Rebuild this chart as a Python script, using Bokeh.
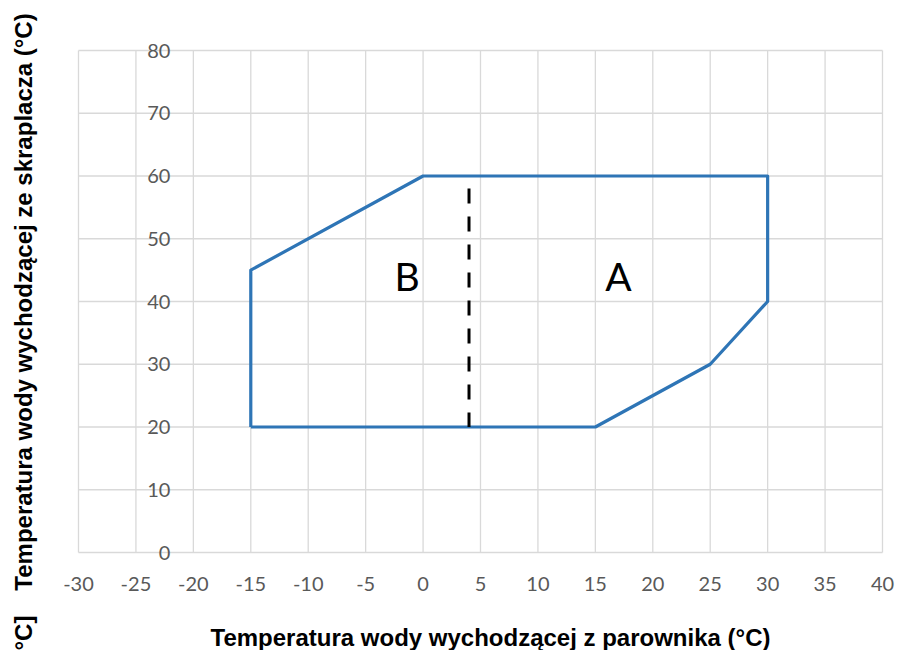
import math
from bokeh.plotting import figure
from bokeh.models import FixedTicker, Range1d, LinearAxis
from bokeh.core.properties import value
from bokeh.embed import file_html
from bokeh.resources import INLINE

# ---- data ----
x_ticks = [-30, -25, -20, -15, -10, -5, 0, 5, 10, 15, 20, 25, 30, 35, 40]
x_tick_labels = ["-30", "-25", "-20", "-15", "-10", "-5", "0", "5", "10",
                 "15", "20", "25", "30", "35", "40"]
y_ticks = [0, 10, 20, 30, 40, 50, 60, 70, 80]
y_tick_labels = ["0", "10", "20", "30", "40", "50", "60", "70", "80"]
y_axis_cross = -20

envelope_x = [-15, -15, 0, 30, 30, 25, 15, -15]
envelope_y = [20, 45, 60, 60, 40, 30, 20, 20]

divider_x = [4, 4]
divider_y = [58, 20]

zone_labels = ["B", "A"]
zone_x = [-1.4, 17.0]
zone_y = [44.0, 44.0]

x_title = "Temperatura wody wychodzącej z parownika (°C)"
y_title = "Temperatura wody wychodzącej ze skraplacza (°C)"
fragment = "°C]"

# ---- layout (canvas pixels) ----
W, H = 896, 650
PX_LEFT, PX_RIGHT = 78, 882     # where x = -30 and x = 40 fall
PY_BOTTOM, PY_TOP = 552, 50     # where y = 0 and y = 80 fall
XMIN, XMAX = x_ticks[0], x_ticks[-1]
YMIN, YMAX = y_ticks[0], y_ticks[-1]
kx = (PX_RIGHT - PX_LEFT) / (XMAX - XMIN)
ky = (PY_BOTTOM - PY_TOP) / (YMAX - YMIN)


def dx(px):
    return XMIN + (px - PX_LEFT) / kx


def dy(py):
    return YMIN + (PY_BOTTOM - py) / ky


GRID = "#d9d9d9"
TICK = "#595959"
BLUE = "#2e75b6"

p = figure(frame_width=W, frame_height=H,
           x_range=Range1d(dx(0), dx(W)), y_range=Range1d(dy(H), dy(0)),
           output_backend="svg", toolbar_location=None,
           x_axis_location=None, y_axis_location=None,
           min_border=0)
p.background_fill_color = "white"
p.border_fill_color = "white"
p.outline_line_color = None
p.grid.visible = False

# grid lines over the plot area only
p.segment(x0=x_ticks, y0=[YMIN] * len(x_ticks), x1=x_ticks, y1=[YMAX] * len(x_ticks),
          line_color=GRID, line_width=1.3)
p.segment(x0=[XMIN] * len(y_ticks), y0=y_ticks, x1=[XMAX] * len(y_ticks), y1=y_ticks,
          line_color=GRID, line_width=1.3)

# x axis at y = 0
xax = LinearAxis(ticker=FixedTicker(ticks=x_ticks), fixed_location=YMIN,
                 major_label_overrides=dict(zip(x_ticks, x_tick_labels)))
xax.axis_line_color = None
xax.major_tick_line_color = None
xax.minor_tick_line_color = None
xax.major_tick_out = 0
xax.major_tick_in = 0
xax.major_label_standoff = 24
xax.major_label_text_font = "Lato"
xax.major_label_text_font_size = "20px"
xax.major_label_text_color = TICK
p.add_layout(xax, "below")

# y axis crossing at x = -20
yax = LinearAxis(ticker=FixedTicker(ticks=y_ticks), fixed_location=y_axis_cross,
                 major_label_overrides=dict(zip(y_ticks, y_tick_labels)))
yax.axis_line_color = None
yax.major_tick_line_color = None
yax.minor_tick_line_color = None
yax.major_tick_out = 0
yax.major_tick_in = 0
yax.major_label_standoff = 23
yax.major_label_text_font = "Lato"
yax.major_label_text_font_size = "20px"
yax.major_label_text_color = TICK
p.add_layout(yax, "left")

# envelope
p.line(envelope_x, envelope_y, line_color=BLUE, line_width=3.2, line_join="round")
# divider
p.line(divider_x, divider_y, line_color="black", line_width=3, line_dash="15 13")

# zone labels
p.text(x=zone_x, y=zone_y, text=zone_labels, text_align="center",
       text_baseline="middle", text_font=value("Lato"),
       text_font_size="39px", text_color="black")

# axis titles
p.text(x=[dx(490)], y=[dy(636.5)], text=[x_title], text_align="center",
       text_baseline="middle", text_font=value("Liberation Sans"),
       text_font_style="bold", text_font_size="24px", text_color="black")
p.text(x=[dx(23)], y=[dy(301.5)], text=[y_title], angle=math.pi / 2,
       text_align="center", text_baseline="middle",
       text_font=value("Liberation Sans"), text_font_style="bold",
       text_font_size="24px", text_color="black")

# clipped fragment at the lower left
p.text(x=[dx(23)], y=[dy(650)], text=[fragment], angle=math.pi / 2,
       text_align="left", text_baseline="middle",
       text_font=value("Liberation Sans"), text_font_style="bold",
       text_font_size="24px", text_color="black")

open("out.html", "w").write(file_html(p, INLINE))
